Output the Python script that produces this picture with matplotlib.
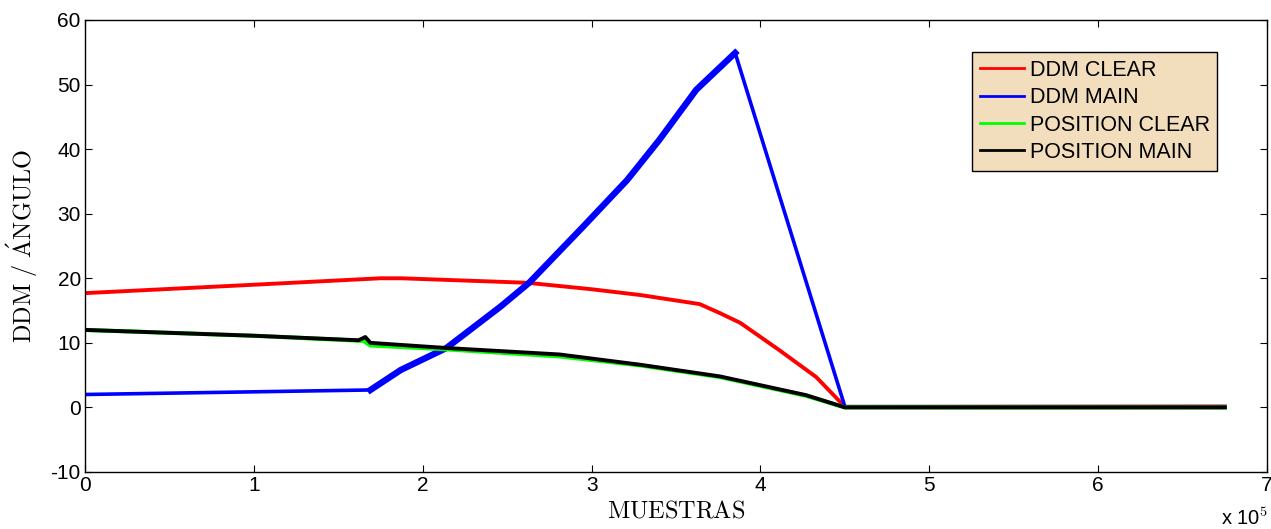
import matplotlib
matplotlib.use('Agg')
import matplotlib.pyplot as plt
from matplotlib.ticker import FuncFormatter

# sample index (raw samples) and value pairs
ddm_clear_x = [0, 1.0e5, 1.75e5, 1.87e5, 2.62e5, 3.0e5, 3.29e5, 3.64e5, 3.76e5, 3.88e5,
               4.11e5, 4.33e5, 4.5e5, 6.75e5]
ddm_clear_y = [17.7, 19.0, 20.0, 20.0, 19.3, 18.3, 17.4, 16.0, 14.6, 13.1,
               8.9, 4.7, 0.1, 0.15]

ddm_main_x = [0, 1.69e5, 1.87e5, 2.14e5, 2.46e5, 2.63e5, 2.95e5, 3.21e5, 3.40e5,
              3.62e5, 3.85e5, 4.5e5, 6.75e5]
ddm_main_y = [2.0, 2.7, 5.8, 9.2, 15.6, 19.3, 28.0, 35.2, 41.4, 49.2, 54.9, 0.1, 0.1]

pos_clear_x = [0, 1.0e5, 1.65e5, 1.69e5, 2.14e5, 2.81e5, 3.29e5, 3.76e5, 4.27e5, 4.5e5, 6.75e5]
pos_clear_y = [12.0, 11.1, 10.3, 9.6, 9.0, 7.9, 6.5, 4.7, 1.8, 0.0, 0.0]

pos_main_x = [0, 1.0e5, 1.62e5, 1.66e5, 1.69e5, 2.14e5, 2.81e5, 3.29e5, 3.76e5, 4.27e5,
              4.5e5, 6.75e5]
pos_main_y = [12.0, 11.1, 10.4, 10.9, 10.0, 9.2, 8.2, 6.6, 4.8, 1.9, 0.0, 0.0]

labels = ['DDM CLEAR', 'DDM MAIN', 'POSITION CLEAR', 'POSITION MAIN']
y_ticks = [-10, 0, 10, 20, 30, 40, 50, 60]
x_ticks = [0, 1e5, 2e5, 3e5, 4e5, 5e5, 6e5, 7e5]

plt.rcParams['font.family'] = ['Liberation Sans', 'DejaVu Sans']
plt.rcParams['mathtext.fontset'] = 'cm'
plt.rcParams['axes.unicode_minus'] = False

fig = plt.figure(figsize=(12.71, 5.29), dpi=100)
ax = fig.add_axes([0.0669, 0.1078, 0.9300, 0.8544])

ax.plot(ddm_clear_x, ddm_clear_y, color='#ff0000', lw=2.8, label=labels[0])
ax.plot(ddm_main_x, ddm_main_y, color='#0000ff', lw=2.6, label=labels[1])
# the rising part of the blue trace is noisier, so it looks thicker
ax.plot(ddm_main_x[1:11], ddm_main_y[1:11], color='#0000ff', lw=4.6)
ax.plot(pos_clear_x, pos_clear_y, color='#00ff00', lw=3.0, label=labels[2])
ax.plot(pos_main_x, pos_main_y, color='#000000', lw=2.8, label=labels[3])

ax.set_xlim(0, 7e5)
ax.set_ylim(-10, 60)
ax.set_xticks(x_ticks)
ax.set_yticks(y_ticks)
ax.xaxis.set_major_formatter(FuncFormatter(lambda v, p: '%d' % round(v / 1e5)))
ax.tick_params(direction='in', length=5, width=0.8, top=True, right=True,
               labelsize=15, pad=3)
for s in ax.spines.values():
    s.set_linewidth(1.0)

ax.set_xlabel(r'$\mathrm{MUESTRAS}$', fontsize=17.5, labelpad=4)
ax.set_ylabel(r'$\mathrm{DDM\ /\ \acute{A}NGULO}$', fontsize=17.5, labelpad=8)
fig.text(0.961, 0.008, r'x 10$^5$', fontsize=14.5)

leg = ax.legend(loc='upper right', bbox_to_anchor=(0.958, 0.929), borderaxespad=0,
                fancybox=False, framealpha=1, facecolor='#f2debd', edgecolor='black',
                fontsize=15.5, handlelength=2.05, handletextpad=0.28, labelspacing=0.3,
                borderpad=0.35)
leg.get_frame().set_linewidth(1.0)
for h in leg.get_lines():
    h.set_linewidth(2)

fig.savefig('out.png', dpi=100)
